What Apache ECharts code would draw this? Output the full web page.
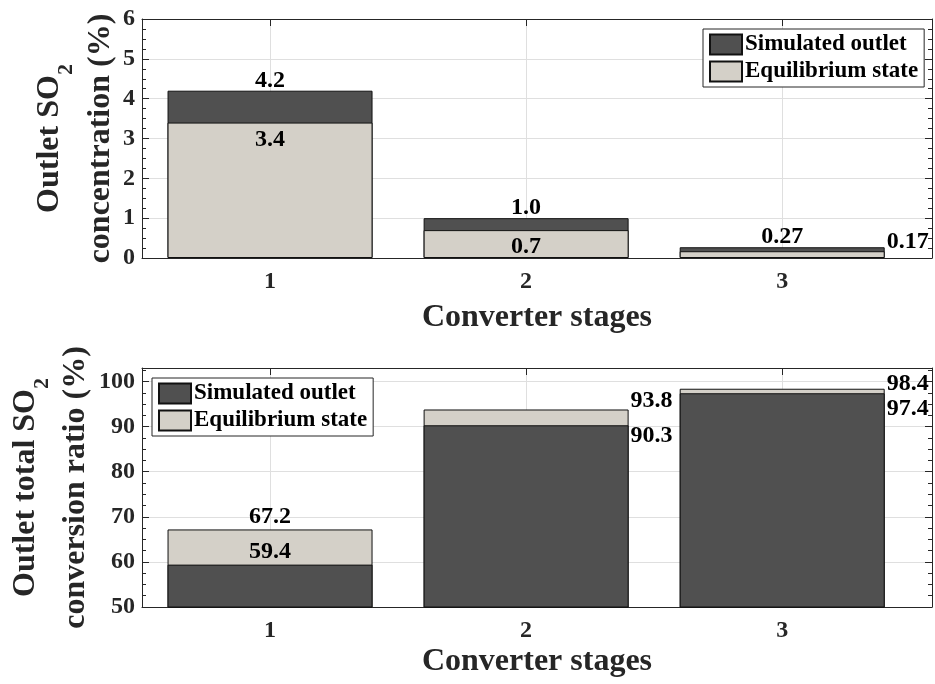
<!DOCTYPE html>
<html>
<head>
<meta charset="utf-8">
<script src="https://cdn.jsdelivr.net/npm/echarts@6/dist/echarts.min.js"></script>
<style>
  html, body { margin: 0; padding: 0; background: #ffffff; }
  #chart { width: 935px; height: 684px; }
</style>
</head>
<body>
<div id="chart"></div>
<script>
// Converter stages on the x axis
const stages = [1, 2, 3];
const stageLabels = ['1', '2', '3'];

// Outlet SO2 concentration (%)
const concSimulated = [4.2, 1.0, 0.27];
const concEquilibrium = [3.4, 0.7, 0.17];

// Outlet total SO2 conversion ratio (%)
const convSimulated = [59.4, 90.3, 97.4];
const convEquilibrium = [67.2, 93.8, 98.4];

const SERIF = "'Liberation Serif', 'Times New Roman', serif";
const AXIS_COLOR = '#262626';
const GRID_COLOR = '#dfdfdf';
const DARK = '#505050';
const LIGHT = '#d4d0c8';
const BAR_WIDTH = 205;
const X_MIN = 0.5, X_MAX = 3.585;

function fmt(v) {
  const tenths = Math.round(v * 1000) / 100;
  return Number.isInteger(Math.round(tenths * 1000) / 1000) ? v.toFixed(1) : v.toFixed(2);
}

// label placements
const ABOVE = { position: 'top', distance: 1 };
const ABOVE_CLOSE = { position: 'top', distance: -2 };
const INSIDE_TOP = { position: 'insideTop', distance: 5 };
const RIGHT_ABOVE = { position: ['100%', 0], align: 'left', verticalAlign: 'bottom', offset: [2, 3] };
const RIGHT_BELOW = { position: ['100%', 0], align: 'left', verticalAlign: 'top', offset: [2, -1] };
const RIGHT_ABOVE_LOW = { position: ['100%', 0], align: 'left', verticalAlign: 'bottom', offset: [2, 7] };
const RIGHT_BELOW_LOW = { position: ['100%', 0], align: 'left', verticalAlign: 'top', offset: [2, 4] };

function barData(values, placements) {
  return values.map((v, i) => ({ value: [stages[i], v], label: placements[i] }));
}

function barSeries(name, color, values, placements, axisIdx) {
  return {
    name: name,
    type: 'bar',
    xAxisIndex: axisIdx * 2,
    yAxisIndex: axisIdx * 2,
    barWidth: BAR_WIDTH,
    barGap: '-100%',
    itemStyle: { color: color, borderColor: '#111111', borderWidth: 1 },
    label: {
      show: true,
      fontFamily: SERIF, fontWeight: 'bold', fontSize: 24, color: '#000000',
      formatter: p => fmt(p.value[1])
    },
    emphasis: { disabled: true },
    data: barData(values, placements)
  };
}

function xAxes(gridIndex, nameGap) {
  const common = {
    type: 'value', gridIndex: gridIndex, min: X_MIN, max: X_MAX,
    axisLine: { show: true, onZero: false, lineStyle: { color: AXIS_COLOR, width: 1 } },
    axisTick: { show: true, inside: true, length: 7, customValues: stages, lineStyle: { color: AXIS_COLOR } }
  };
  return [
    Object.assign({}, common, {
      position: 'bottom',
      axisLabel: {
        customValues: stages,
        formatter: v => stageLabels[stages.indexOf(v)],
        fontFamily: SERIF, fontWeight: 'bold', fontSize: 24, color: AXIS_COLOR, margin: 12
      },
      splitLine: { show: true, lineStyle: { color: GRID_COLOR, width: 1 } },
      name: 'Converter stages',
      nameLocation: 'middle',
      nameGap: nameGap,
      nameTextStyle: { fontFamily: SERIF, fontWeight: 'bold', fontSize: 32, color: AXIS_COLOR }
    }),
    Object.assign({}, common, {
      position: 'top',
      axisLabel: { show: false },
      splitLine: { show: false }
    })
  ];
}

function yAxes(gridIndex, min, max, interval) {
  const common = {
    type: 'value', gridIndex: gridIndex, min: min, max: max, interval: interval,
    axisLine: { show: true, onZero: false, lineStyle: { color: AXIS_COLOR, width: 1 } },
    axisTick: { show: true, inside: true, length: 7, lineStyle: { color: AXIS_COLOR } },
    minorTick: { show: true, splitNumber: 4, length: 4, lineStyle: { color: AXIS_COLOR } }
  };
  return [
    Object.assign({}, common, {
      position: 'left',
      axisLabel: {
        fontFamily: SERIF, fontWeight: 'bold', fontSize: 24, color: AXIS_COLOR, margin: 7,
        showMaxLabel: (max % interval === 0)
      },
      splitLine: { show: true, lineStyle: { color: GRID_COLOR, width: 1 } }
    }),
    Object.assign({}, common, {
      position: 'right',
      axisLabel: { show: false },
      splitLine: { show: false }
    })
  ];
}

function legendAt(left, top) {
  return {
    orient: 'vertical', left: left, top: top,
    data: ['Simulated outlet', 'Equilibrium state'],
    itemWidth: 32, itemHeight: 20, itemGap: 4,
    padding: [4, 6, 4, 6],
    backgroundColor: '#ffffff', borderColor: AXIS_COLOR, borderWidth: 1,
    icon: 'rect',
    textStyle: { fontFamily: SERIF, fontWeight: 'bold', fontSize: 23, color: '#000000', padding: [0, 0, 0, -2] },
    selectedMode: false
  };
}

function titleText(x, y, main, sub) {
  const text = sub ? '{m|' + main + '}{s|' + sub + '}' : '{m|' + main + '}';
  return {
    type: 'text', x: x, y: y, rotation: Math.PI / 2, silent: true,
    style: {
      text: text, align: 'center', verticalAlign: 'middle',
      rich: {
        m: { fontFamily: SERIF, fontWeight: 'bold', fontSize: 32, lineHeight: 32, fill: AXIS_COLOR, verticalAlign: 'top' },
        s: { fontFamily: SERIF, fontWeight: 'bold', fontSize: 22, lineHeight: sub ? 64 : 32, fill: AXIS_COLOR }
      }
    }
  };
}

const option = {
  animation: false,
  backgroundColor: '#ffffff',
  grid: [
    { left: 142, top: 19, width: 790, height: 239 },
    { left: 142, top: 368, width: 790, height: 239 }
  ],
  xAxis: xAxes(0, 44).concat(xAxes(1, 39)),
  yAxis: yAxes(0, 0, 6, 1).concat(yAxes(1, 50, 103, 10)),
  legend: [legendAt(703, 29), legendAt(152, 378)],
  series: [
    barSeries('Simulated outlet', DARK, concSimulated, [ABOVE_CLOSE, ABOVE_CLOSE, ABOVE_CLOSE], 0),
    barSeries('Equilibrium state', LIGHT, concEquilibrium, [INSIDE_TOP, INSIDE_TOP, RIGHT_ABOVE], 0),
    barSeries('Equilibrium state', LIGHT, convEquilibrium, [ABOVE, RIGHT_ABOVE, RIGHT_ABOVE_LOW], 1),
    barSeries('Simulated outlet', DARK, convSimulated, [ABOVE, RIGHT_BELOW, RIGHT_BELOW_LOW], 1)
  ],
  graphic: [
    titleText(66, 138.5, 'Outlet SO', '2'),
    titleText(101, 138.5, 'concentration (%)'),
    titleText(42, 487.5, 'Outlet total SO', '2'),
    titleText(76, 487.5, 'conversion ratio (%)')
  ]
};

const chart = echarts.init(document.getElementById('chart'), null, { renderer: 'canvas' });
chart.setOption(option);
</script>
</body>
</html>
